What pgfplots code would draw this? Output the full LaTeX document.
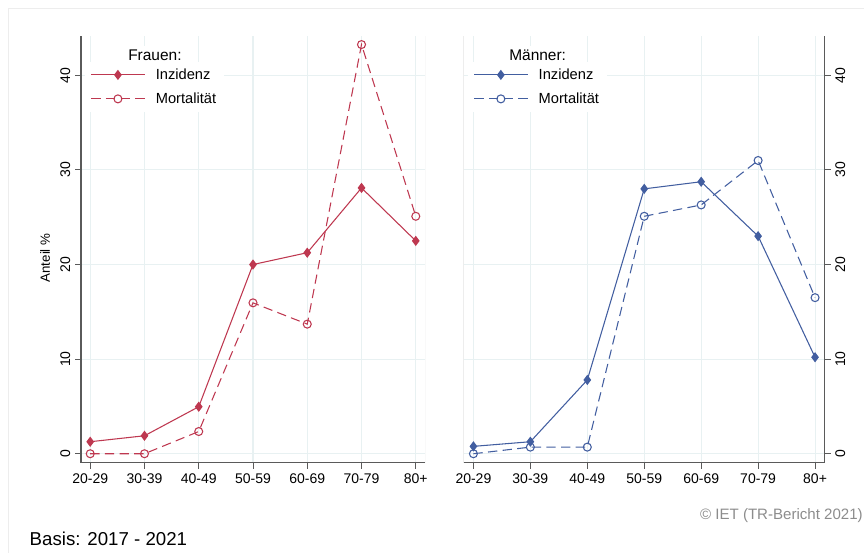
\documentclass[border=0pt]{standalone}
\usepackage{pgfplots}
\pgfplotsset{compat=1.18}
\usepackage{fontspec}
\setmainfont{Liberation Sans}
\definecolor{fred}{RGB}{190,56,80}
\definecolor{mblue}{RGB}{66,94,160}
\definecolor{gridc}{RGB}{232,241,242}
\definecolor{spine}{RGB}{90,90,90}
\definecolor{lspine}{RGB}{205,205,205}
\begin{document}
\begin{tikzpicture}
\useasboundingbox (0pt,0pt) rectangle (648pt,414.75pt);
\draw[color=black!7] (6pt,0pt) -- (6pt,408.75pt) -- (648pt,408.75pt);
\pgfplotsset{
  mystyle/.style={
    scale only axis,
    xmin=-0.17, xmax=6.17,
    ymin=-0.95, ymax=44.15,
    xtick={0,...,6},
    xticklabels={20-29,30-39,40-49,50-59,60-69,70-79,80+},
    ytick={0,10,20,30,40},
    grid=major,
    major grid style={color=gridc, line width=0.8pt},
    tick style={color=spine, line width=0.7pt},
    tick align=outside,
    major tick length=4.5pt,
    /pgf/number format/assume math mode=true,
    ticklabel style={font=\fontsize{10.5}{12}\selectfont},
    yticklabel style={rotate=90},
    axis line style={line width=0.9pt, color=spine},
    legend cell align=left,
    legend style={draw=none, fill=white, font=\fontsize{11}{13}\selectfont,
      inner xsep=4pt, inner ysep=3pt, row sep=4.5pt,
      /tikz/every odd column/.append style={column sep=6pt}},
    legend image code/.code={\draw[mark repeat=2,mark phase=2] plot coordinates {(0pt,0pt)(20pt,0pt)(40pt,0pt)};},
  },
  inz/.style={solid, line width=0.8pt, mark=diamond*, mark size=3.2pt, mark options={solid}},
  mort/.style={dash pattern=on 7pt off 4pt, line width=0.8pt, mark=o, mark size=3pt, mark options={solid, fill=white}},
}
% Left: Frauen
\begin{axis}[mystyle,
  at={(60.75pt,67.7pt)}, anchor=south west,
  width=258pt, height=320pt,
  axis x line*=bottom,
  axis y line*=left,
  yticklabel style={anchor=south},
  ylabel={Anteil \%},
  ylabel style={font=\fontsize{10}{12}\selectfont, at={(rel axis cs:0,0.48)}, anchor=center, yshift=27pt},
  legend style={at={(rel axis cs:0.012,0.94)}, anchor=north west},
]
\draw[color=lspine, line width=0.6pt] (rel axis cs:1,0) -- (rel axis cs:1,1);
\addplot[color=fred, inz] coordinates {(0,1.27)(1,1.9)(2,4.97)(3,20.0)(4,21.25)(5,28.1)(6,22.5)};
\addlegendentry{Inzidenz}
\addplot[color=fred, mort] coordinates {(0,0)(1,0)(2,2.35)(3,15.95)(4,13.7)(5,43.25)(6,25.1)};
\addlegendentry{Mortalität}
\end{axis}
\node[anchor=west, fill=white, inner sep=3pt, font=\fontsize{11.6}{13}\selectfont] at (93pt,373.5pt) {Frauen:};
% Right: Maenner
\begin{axis}[mystyle,
  at={(347.8pt,67.7pt)}, anchor=south west,
  width=270.75pt, height=320pt,
  axis x line*=bottom,
  axis y line*=right,
  yticklabel style={anchor=north},
  legend style={at={(rel axis cs:0.012,0.94)}, anchor=north west},
]
\draw[color=lspine, line width=0.6pt] (rel axis cs:0,0) -- (rel axis cs:0,1);
\addplot[color=mblue, inz] coordinates {(0,0.78)(1,1.27)(2,7.8)(3,28.0)(4,28.75)(5,23.0)(6,10.2)};
\addlegendentry{Inzidenz}
\addplot[color=mblue, mort] coordinates {(0,0)(1,0.7)(2,0.7)(3,25.1)(4,26.3)(5,31.0)(6,16.5)};
\addlegendentry{Mortalität}
\end{axis}
\node[anchor=west, fill=white, inner sep=3pt, font=\fontsize{11.6}{13}\selectfont] at (378.75pt,373.5pt) {Männer:};
\node[anchor=base west, font=\fontsize{14}{16}\selectfont] at (18.75pt,5.25pt) {Basis: 2017 - 2021};
\node[anchor=base east, inner sep=0pt, font=\fontsize{11.3}{13}\selectfont, text=black!45] at (647.25pt,24.75pt) {© IET (TR-Bericht 2021)};
\end{tikzpicture}
\end{document}
